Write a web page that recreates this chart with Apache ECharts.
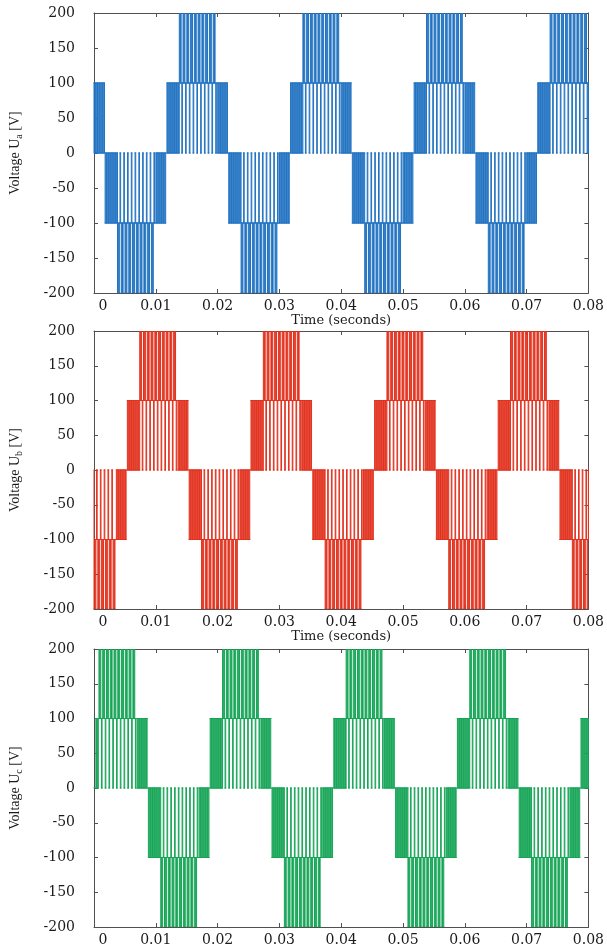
<!DOCTYPE html>
<html>
<head>
<meta charset="utf-8">
<script src="https://cdn.jsdelivr.net/npm/echarts@6/dist/echarts.min.js"></script>
<style>
  html, body { margin: 0; padding: 0; background: #ffffff; }
  #chart { width: 607px; height: 947px; }
</style>
</head>
<body>
<div id="chart"></div>
<script>
// Axis ticks
const xTickLabels = ['0', '0.01', '0.02', '0.03', '0.04', '0.05', '0.06', '0.07', '0.08'];
const yTickValues = [-200, -150, -100, -50, 0, 50, 100, 150, 200];

// Phase names (subscripts of U) and trace colours
const phaseNames = ['a', 'b', 'c'];
const phaseColors = ['#2273c2', '#e2321f', '#17a557'];

// Switching bands of each phase voltage:
// [start (s), end (s), inner level (V), outer level (V), number of switching edges]
const bandsA = [
  [0.0000, 0.0017, 0, 100, 15],
  [0.0018, 0.0038, 0, -100, 18],
  [0.0038, 0.0099, -100, -200, 60],
  [0.0099, 0.0116, 0, -100, 15],
  [0.0118, 0.0138, 0, 100, 18],
  [0.0138, 0.0199, 100, 200, 60],
  [0.0199, 0.0216, 0, 100, 15],
  [0.0218, 0.0238, 0, -100, 18],
  [0.0238, 0.0299, -100, -200, 60],
  [0.0299, 0.0316, 0, -100, 15],
  [0.0318, 0.0338, 0, 100, 18],
  [0.0338, 0.0399, 100, 200, 60],
  [0.0399, 0.0416, 0, 100, 15],
  [0.0418, 0.0438, 0, -100, 18],
  [0.0438, 0.0499, -100, -200, 60],
  [0.0499, 0.0516, 0, -100, 15],
  [0.0518, 0.0538, 0, 100, 18],
  [0.0538, 0.0599, 100, 200, 60],
  [0.0599, 0.0616, 0, 100, 15],
  [0.0618, 0.0638, 0, -100, 18],
  [0.0638, 0.0699, -100, -200, 60],
  [0.0699, 0.0716, 0, -100, 15],
  [0.0718, 0.0738, 0, 100, 18],
  [0.0738, 0.0800, 100, 200, 60]
];

const bandsB = [
  [0.0000, 0.0035, -100, -200, 34],
  [0.0035, 0.0052, 0, -100, 15],
  [0.0054, 0.0074, 0, 100, 18],
  [0.0074, 0.0135, 100, 200, 60],
  [0.0135, 0.0152, 0, 100, 15],
  [0.0154, 0.0174, 0, -100, 18],
  [0.0174, 0.0235, -100, -200, 60],
  [0.0235, 0.0252, 0, -100, 15],
  [0.0254, 0.0274, 0, 100, 18],
  [0.0274, 0.0335, 100, 200, 60],
  [0.0335, 0.0352, 0, 100, 15],
  [0.0354, 0.0374, 0, -100, 18],
  [0.0374, 0.0435, -100, -200, 60],
  [0.0435, 0.0452, 0, -100, 15],
  [0.0454, 0.0474, 0, 100, 18],
  [0.0474, 0.0535, 100, 200, 60],
  [0.0535, 0.0552, 0, 100, 15],
  [0.0554, 0.0574, 0, -100, 18],
  [0.0574, 0.0635, -100, -200, 60],
  [0.0635, 0.0652, 0, -100, 15],
  [0.0654, 0.0674, 0, 100, 18],
  [0.0674, 0.0735, 100, 200, 60],
  [0.0735, 0.0752, 0, 100, 15],
  [0.0754, 0.0774, 0, -100, 18],
  [0.0774, 0.0800, -100, -200, 26]
];

const bandsC = [
  [0.0003, 0.0008, 0, 100, 5],
  [0.0008, 0.0069, 100, 200, 60],
  [0.0069, 0.0086, 0, 100, 15],
  [0.0088, 0.0108, 0, -100, 18],
  [0.0108, 0.0169, -100, -200, 60],
  [0.0169, 0.0186, 0, -100, 15],
  [0.0188, 0.0208, 0, 100, 18],
  [0.0208, 0.0269, 100, 200, 60],
  [0.0269, 0.0286, 0, 100, 15],
  [0.0288, 0.0308, 0, -100, 18],
  [0.0308, 0.0369, -100, -200, 60],
  [0.0369, 0.0386, 0, -100, 15],
  [0.0388, 0.0408, 0, 100, 18],
  [0.0408, 0.0469, 100, 200, 60],
  [0.0469, 0.0486, 0, 100, 15],
  [0.0488, 0.0508, 0, -100, 18],
  [0.0508, 0.0569, -100, -200, 60],
  [0.0569, 0.0586, 0, -100, 15],
  [0.0588, 0.0608, 0, 100, 18],
  [0.0608, 0.0669, 100, 200, 60],
  [0.0669, 0.0686, 0, 100, 15],
  [0.0688, 0.0708, 0, -100, 18],
  [0.0708, 0.0769, -100, -200, 60],
  [0.0769, 0.0786, 0, -100, 15],
  [0.0788, 0.0800, 0, 100, 11]
];

const phaseBands = [bandsA, bandsB, bandsC];

// Turn the band list into the corner points of a stepped voltage trace.
function voltageTrace(bands) {
  const pts = [[0, 0]];
  let level = 0;
  const switchTo = (t, v) => { pts.push([t, level]); pts.push([t, v]); level = v; };
  bands.forEach((band, k) => {
    const [t0, t1, inner, outer, edges] = band;
    // near the zero crossing the output toggles between 0 and ±100,
    // around the peak between ±100 and ±200 with short drops to 0
    const seq = inner === 0 ? [outer, inner] : [outer, inner, outer, inner, 0, inner];
    const dt = (t1 - t0) / edges;
    for (let i = 0; i < edges; i++) switchTo(t0 + i * dt, seq[i % seq.length]);
    const next = bands[k + 1];
    if (!next || next[0] - t1 > 1e-7) switchTo(t1, 0);
  });
  pts.push([0.08, level]);
  return pts;
}

// Split the trace into straight pieces [t0, v0, t1, v1] so every edge is drawn.
function traceSegments(bands) {
  const pts = voltageTrace(bands);
  const segs = [];
  for (let i = 1; i < pts.length; i++) {
    const a = pts[i - 1], b = pts[i];
    if (a[0] !== b[0] || a[1] !== b[1]) segs.push([a[0], a[1], b[0], b[1]]);
  }
  return segs;
}

const chart = echarts.init(document.getElementById('chart'), null, { renderer: 'canvas' });

const frameColor = '#505050';
const textColor = '#1a1a1a';
const tickFont = 'DejaVu Serif';
const panelTops = [13, 331, 649];
const panelHeights = [280, 278, 279];

const grid = [], xAxis = [], yAxis = [], series = [];

phaseNames.forEach((ph, i) => {
  grid.push({ left: 91, right: 18, top: panelTops[i], height: panelHeights[i], containLabel: false });

  // bottom time axis with labels
  xAxis.push({
    type: 'value', gridIndex: i, position: 'bottom', min: 0, max: 0.08, interval: 0.01,
    axisLine: { show: true, onZero: false, lineStyle: { color: frameColor, width: 1 } },
    axisTick: { show: true, inside: true, length: 4, lineStyle: { color: frameColor } },
    splitLine: { show: false },
    axisLabel: {
      margin: 6, color: textColor, fontFamily: tickFont, fontSize: 14,
      formatter: v => {
        const lab = xTickLabels[Math.round(v / 0.01)];
        return lab === '0' ? '{z|0}' : lab;
      },
      rich: { z: { padding: [0, 0, 0, 18], color: textColor, fontFamily: tickFont, fontSize: 14 } }
    },
    name: i < 2 ? 'Time (seconds)' : '',
    nameLocation: 'middle', nameGap: 21,
    nameTextStyle: { color: textColor, fontFamily: tickFont, fontSize: 13 }
  });
  // top frame edge
  xAxis.push({
    type: 'value', gridIndex: i, position: 'top', min: 0, max: 0.08, interval: 0.01,
    axisLine: { show: true, onZero: false, lineStyle: { color: frameColor, width: 1 } },
    axisTick: { show: true, inside: true, length: 4, lineStyle: { color: frameColor } },
    axisLabel: { show: false }, splitLine: { show: false }
  });

  // left voltage axis with labels
  yAxis.push({
    type: 'value', gridIndex: i, position: 'left', min: -200, max: 200, interval: 50,
    axisLine: { show: true, onZero: false, lineStyle: { color: frameColor, width: 1 } },
    axisTick: { show: true, inside: true, length: 4, lineStyle: { color: frameColor } },
    splitLine: { show: false },
    axisLabel: {
      margin: 19, color: textColor, fontFamily: tickFont, fontSize: 14,
      formatter: v => (yTickValues.includes(v) ? String(v) : '')
    },
    name: 'Voltage U{s|' + ph + '} [V]',
    nameLocation: 'middle', nameGap: 70, nameRotate: 90,
    nameTextStyle: {
      color: textColor, fontFamily: 'Liberation Serif', fontSize: 14,
      rich: { s: { fontFamily: 'Liberation Serif', fontSize: 10, color: textColor, padding: [8, 0, 0, 0] } }
    }
  });
  // right frame edge
  yAxis.push({
    type: 'value', gridIndex: i, position: 'right', min: -200, max: 200, interval: 50,
    axisLine: { show: true, onZero: false, lineStyle: { color: frameColor, width: 1 } },
    axisTick: { show: true, inside: true, length: 4, lineStyle: { color: frameColor } },
    axisLabel: { show: false }, splitLine: { show: false }
  });

  const color = phaseColors[i];
  series.push({
    name: 'U' + ph,
    type: 'custom',
    xAxisIndex: 2 * i,
    yAxisIndex: 2 * i,
    data: traceSegments(phaseBands[i]),
    encode: { x: [0, 2], y: [1, 3] },
    clip: true,
    progressive: 0,
    animation: false,
    silent: true,
    renderItem: (params, api) => {
      const a = api.coord([api.value(0), api.value(1)]);
      const b = api.coord([api.value(2), api.value(3)]);
      return {
        type: 'line',
        shape: { x1: a[0], y1: a[1], x2: b[0], y2: b[1] },
        style: { stroke: color, lineWidth: 1, lineCap: 'square' }
      };
    }
  });
});

chart.setOption({
  backgroundColor: '#ffffff',
  animation: false,
  grid, xAxis, yAxis, series
});
</script>
</body>
</html>
